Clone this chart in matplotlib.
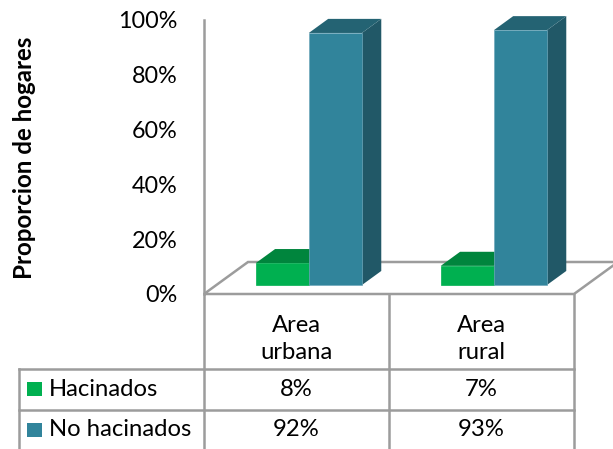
import matplotlib
matplotlib.use("Agg")
import matplotlib.pyplot as plt
from matplotlib.patches import Polygon, Rectangle
from matplotlib.transforms import blended_transform_factory

# ---- data ----
categories = ["Area\nurbana", "Area\nrural"]
series_names = ["Hacinados", "No hacinados"]
hacinados = [8, 7]
no_hacinados = [92, 93]
yticks = [0, 20, 40, 60, 80, 100]
ytick_labels = ["0%", "20%", "40%", "60%", "80%", "100%"]
ylabel = "Proporcion de hogares"

series_values = [hacinados, no_hacinados]
front_colors = ["#00B050", "#31849B"]
top_colors = ["#00853D", "#246373"]
side_colors = ["#00853D", "#215867"]
edge_colors = ["#00B050", "#6FA8BB"]

plt.rcParams['font.family'] = ['Lato', 'DejaVu Sans']
FS = 17.2
GRID = "#9C9C9C"

W, H = 613, 449
Y0, Y100 = 294, 20
PX = (Y0 - Y100) / 100.0
fig = plt.figure(figsize=(W / 100, H / 100), dpi=100)
ax = fig.add_axes([204 / W, (H - Y0) / H, 370 / W, (Y0 - Y100) / H])
ax.set_xlim(0, 2)
ax.set_ylim(0, 100)

# depth of the 3D floor in data units
DX = 44 / 185
DY = 32 / PX
f0, f1 = 0.28, 0.72
bw = 0.287

# floor
floor = Polygon([(0, 0), (2, 0), (2 + DX, DY), (DX, DY)], closed=True,
                facecolor="white", edgecolor=GRID, lw=1.8, clip_on=False, zorder=1)
ax.add_patch(floor)

# bars
for i in range(len(categories)):
    c = i + 0.5
    for s, vals in enumerate(series_values):
        v = vals[i]
        x0 = c - bw + s * bw
        x1 = x0 + bw
        ax0, ax1 = x0 + f0 * DX, x1 + f0 * DX
        bx0, bx1 = x0 + f1 * DX, x1 + f1 * DX
        y0, yb = f0 * DY, f1 * DY
        z = 3 + s
        ax.add_patch(Polygon([(ax1, y0), (bx1, yb), (bx1, v + yb), (ax1, v + y0)],
                             closed=True, facecolor=side_colors[s], edgecolor="none",
                             zorder=z, clip_on=False))
        ax.add_patch(Polygon([(ax0, v + y0), (ax1, v + y0), (bx1, v + yb), (bx0, v + yb)],
                             closed=True, facecolor=top_colors[s], edgecolor="none",
                             zorder=z, clip_on=False))
        ax.add_patch(Rectangle((ax0, y0), bw, v, facecolor=front_colors[s],
                               edgecolor=edge_colors[s], lw=0.5, zorder=z + 0.1,
                               clip_on=False))

# axes styling
for sp in ["top", "right", "bottom"]:
    ax.spines[sp].set_visible(False)
ax.spines["left"].set_color(GRID)
ax.spines["left"].set_linewidth(1.8)
ax.set_xticks([])
ax.set_yticks(yticks)
ax.set_yticklabels(ytick_labels)
ax.tick_params(axis="y", length=0, pad=19, labelsize=FS - 0.4, labelcolor="black")
ax.patch.set_visible(False)

fig.text(25 / W, 1 - 158 / H, ylabel, rotation=90, ha="center", va="center",
         fontsize=17.4, fontweight="bold")

# data table
bt = blended_transform_factory(ax.transData, ax.transAxes)
def ya(px):
    return (Y0 - px) / (Y0 - Y100)

ybot = ya(449)
for xv in [0, 1, 2]:
    ax.plot([xv, xv], [0, ybot], color=GRID, lw=1.8, transform=bt, clip_on=False)
ax.plot([-1, -1], [ya(369), ybot], color=GRID, lw=1.8, transform=bt, clip_on=False)
for yp in [369, 410]:
    ax.plot([-1, 2], [ya(yp), ya(yp)], color=GRID, lw=1.8, transform=bt, clip_on=False)

for i, cat in enumerate(categories):
    ax.text(i + 0.5, ya(339), cat, transform=bt, ha="center", va="center",
            fontsize=FS, linespacing=1.38)

row_centers = [389, 430]
for s, name in enumerate(series_names):
    yc = row_centers[s]
    ax.add_patch(Rectangle((-1 + 8.5 / 185, ya(yc + 7)), 14.5 / 185, 14 / (Y0 - Y100),
                           facecolor=front_colors[s], edgecolor="none",
                           transform=bt, clip_on=False))
    ax.text(-1 + 30 / 185, ya(yc), name, transform=bt, ha="left", va="center",
            fontsize=FS)
    for i, v in enumerate(series_values[s]):
        ax.text(i + 0.5, ya(yc), f"{v}%", transform=bt, ha="center", va="center",
                fontsize=FS)

fig.savefig("out.png", dpi=100)
